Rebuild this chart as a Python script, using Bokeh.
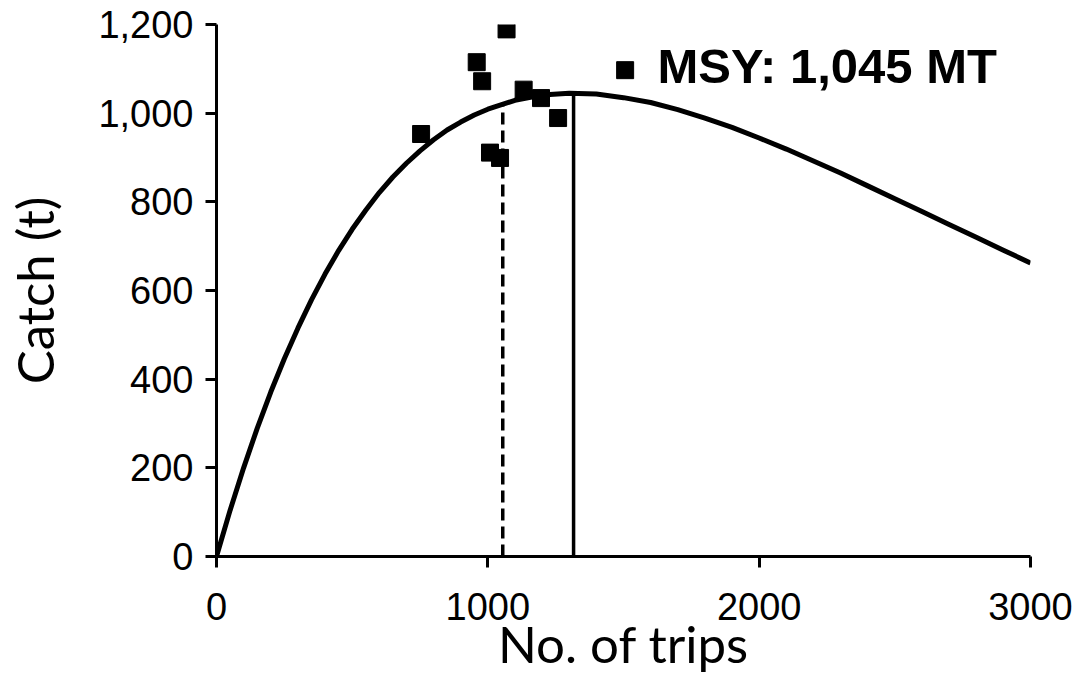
from bokeh.plotting import figure
from bokeh.models import Range1d, NumeralTickFormatter, FixedTicker, Label
from bokeh.embed import file_html
from bokeh.resources import INLINE

trips_obs = [754, 959, 979, 1008, 1045, 1069, 1132, 1196, 1259, 1506]
catch_obs = [953, 1115, 1072, 911, 899, 1189, 1053, 1034, 989, 1097]

# Fitted surplus-production curve
curve_trips = [0, 50, 100, 150, 200, 250, 300, 350, 400, 450, 500, 550, 600, 650,
               700, 750, 800, 850, 900, 950, 1000, 1100, 1200, 1300, 1400, 1500,
               1600, 1700, 1800, 1900, 2000, 2100, 2200, 2300, 2400, 2500, 2600,
               2700, 2800, 2900, 3000]
curve_catch = [0, 104, 200, 289, 371, 446, 515, 579, 637, 690, 738, 781, 821, 856,
               887, 915, 940, 962, 980, 996, 1009, 1029, 1041, 1045, 1043, 1035,
               1024, 1008, 989, 968, 944, 919, 892, 865, 836, 807, 778,
               749, 720, 691, 662]

# Reference lines
msy_trips = 1316
msy_catch = 1045
current_trips = 1055
current_catch = 1021
msy_text = "MSY: 1,045 MT"

x_ticks = [0, 1000, 2000, 3000]
y_ticks = [0, 200, 400, 600, 800, 1000, 1200]

p = figure(width=1076, height=676, output_backend="svg", toolbar_location=None,
           x_range=Range1d(0, 3000), y_range=Range1d(0, 1200),
           min_border_left=216, min_border_right=46, min_border_top=24,
           min_border_bottom=120)
p.outline_line_color = None
p.xgrid.visible = False
p.ygrid.visible = False
p.background_fill_color = "white"
p.border_fill_color = "white"

for ax in (p.xaxis[0], p.yaxis[0]):
    ax.axis_line_width = 3
    ax.axis_line_color = "black"
    ax.major_tick_line_width = 3
    ax.major_tick_line_color = "black"
    ax.major_tick_out = 11
    ax.major_tick_in = 0
    ax.minor_tick_out = 0
    ax.minor_tick_in = 0
    ax.major_label_text_font = "Liberation Sans"
    ax.major_label_text_font_size = "38px"
    ax.major_label_text_color = "black"
    ax.axis_label_text_font = "Lato"
    ax.axis_label_text_font_style = "normal"
    ax.axis_label_text_font_size = "51px"
    ax.axis_label_text_color = "black"

p.xaxis[0].ticker = FixedTicker(ticks=x_ticks)
p.yaxis[0].ticker = FixedTicker(ticks=y_ticks)
p.yaxis[0].formatter = NumeralTickFormatter(format="0,0")
p.xaxis[0].major_label_standoff = 25
p.yaxis[0].major_label_standoff = 12
p.xaxis[0].axis_label = "No. of trips"
p.yaxis[0].axis_label = "Catch (t)"
p.xaxis[0].axis_label_standoff = -10
p.yaxis[0].axis_label_standoff = 30

p.line(curve_trips, curve_catch, line_color="black", line_width=5)
p.segment(x0=[msy_trips], y0=[0], x1=[msy_trips], y1=[msy_catch],
          line_color="black", line_width=3.5)
p.segment(x0=[current_trips], y0=[0], x1=[current_trips], y1=[current_catch],
          line_color="black", line_width=3.5, line_dash="12 6")
p.scatter(trips_obs, catch_obs, marker="square", size=17,
          fill_color="black", line_color="black")

p.add_layout(Label(x=1625, y=1107, text=msy_text, text_font="Liberation Sans",
                   text_font_style="bold", text_font_size="49px",
                   text_color="black", text_baseline="alphabetic"))

open("out.html", "w").write(file_html(p, INLINE))
